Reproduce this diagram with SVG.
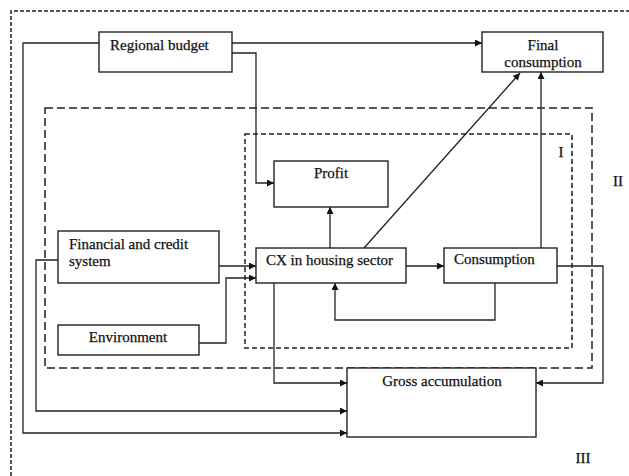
<svg xmlns="http://www.w3.org/2000/svg" width="629" height="476" viewBox="0 0 629 476">
  <style>
    .box { fill: #fff; stroke: #222; stroke-width: 1.4; }
    .t { font-family: "Liberation Serif", "Times New Roman", serif; font-size: 15px; fill: #111; stroke: #111; stroke-width: 0.25; }
    .c { text-anchor: middle; }
    .ln { fill: none; stroke: #222; stroke-width: 1.3; }
    .ar { marker-end: url(#arrow); }
    .zone { fill: none; stroke: #222; stroke-width: 1.5; }
  </style>
  <defs>
    <marker id="arrow" viewBox="0 0 10 10" refX="10" refY="5" markerWidth="8" markerHeight="7" markerUnits="userSpaceOnUse" orient="auto">
      <path d="M0,0 L10,5 L0,10 Z" fill="#111"/>
    </marker>
  </defs>
  <rect width="629" height="476" fill="#fff"/>

  <!-- zone boundaries -->
  <g id="zones">
    <path class="zone" d="M11,476 V11 H629" stroke-dasharray="4 2"/>
    <rect class="zone" x="45" y="108" width="547" height="260" stroke-dasharray="8 4"/>
    <rect class="zone" x="245" y="134" width="327" height="214" stroke-dasharray="5 3"/>
    <text class="t c" x="561" y="157">I</text>
    <text class="t c" x="618" y="186">II</text>
    <text class="t c" x="583" y="463">III</text>
  </g>

  <!-- connectors -->
  <g id="connectors">
    <path class="ln ar" d="M232,43 H482"/>
    <path class="ln ar" d="M232,53 H256 V183 H274"/>
    <path class="ln ar" d="M99,43 H23 V433 H347"/>
    <path class="ln ar" d="M58,260 H36 V411 H347"/>
    <path class="ln ar" d="M274,283 V383 H347"/>
    <path class="ln ar" d="M557,266 H603 V383 H536"/>
    <path class="ln ar" d="M219,266 H256"/>
    <path class="ln ar" d="M199,343 H226 V278 H256"/>
    <path class="ln ar" d="M330,248 V207"/>
    <path class="ln ar" d="M406,266 H444"/>
    <path class="ln ar" d="M364,248 L520,73"/>
    <path class="ln ar" d="M541,248 V72"/>
    <path class="ln ar" d="M495,283 V320 H335 V283"/>
  </g>

  <g id="regional-budget">
    <rect class="box" x="99" y="32" width="133" height="40"/>
    <text class="t" x="110" y="50">Regional budget</text>
  </g>
  <g id="final-consumption">
    <rect class="box" x="482" y="32" width="121" height="40"/>
    <text class="t c" x="543" y="50">Final</text>
    <text class="t c" x="543" y="67">consumption</text>
  </g>
  <g id="profit">
    <rect class="box" x="274" y="161" width="114" height="46"/>
    <text class="t c" x="331" y="178">Profit</text>
  </g>
  <g id="financial-credit">
    <rect class="box" x="58" y="231" width="161" height="52"/>
    <text class="t" x="69" y="249">Financial and credit</text>
    <text class="t" x="69" y="266">system</text>
  </g>
  <g id="cx-housing">
    <rect class="box" x="256" y="248" width="150" height="35"/>
    <text class="t" x="266" y="265">CX in housing sector</text>
  </g>
  <g id="consumption">
    <rect class="box" x="444" y="248" width="113" height="35"/>
    <text class="t" x="454" y="264">Consumption</text>
  </g>
  <g id="environment">
    <rect class="box" x="58" y="325" width="141" height="30"/>
    <text class="t c" x="128" y="342">Environment</text>
  </g>
  <g id="gross-accumulation">
    <rect class="box" x="347" y="368" width="189" height="69"/>
    <text class="t c" x="442" y="386">Gross accumulation</text>
  </g>
</svg>
